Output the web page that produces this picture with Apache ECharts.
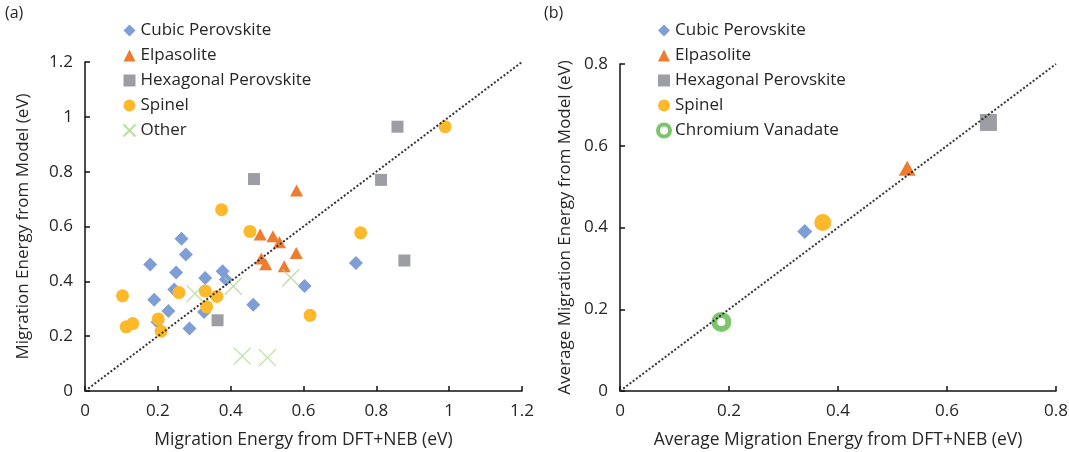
<!DOCTYPE html>
<html>
<head>
<meta charset="utf-8">
<script src="https://cdn.jsdelivr.net/npm/echarts@6/dist/echarts.min.js"></script>
<style>
  html, body { margin: 0; padding: 0; background: #fff; }
  #chart { width: 1069px; height: 452px; }
</style>
</head>
<body>
<div id="chart"></div>
<script>
// (a) individual migration energies: [DFT+NEB, model]
var cubicA = [[0.265, 0.555], [0.277, 0.498], [0.179, 0.461], [0.25, 0.432], [0.33, 0.412],
  [0.378, 0.437], [0.387, 0.407], [0.19, 0.333], [0.245, 0.37], [0.229, 0.292],
  [0.199, 0.252], [0.287, 0.228], [0.327, 0.288], [0.462, 0.315], [0.603, 0.383], [0.744, 0.467]]
var elpaA = [[0.581, 0.731], [0.481, 0.571], [0.516, 0.564], [0.534, 0.543], [0.58, 0.503],
  [0.484, 0.483], [0.496, 0.462], [0.547, 0.455]]
var hexA = [[0.464, 0.773], [0.364, 0.258], [0.813, 0.77], [0.877, 0.476], [0.858, 0.964]]
var spinelA = [[0.375, 0.661], [0.453, 0.582], [0.103, 0.347], [0.258, 0.359], [0.33, 0.365],
  [0.362, 0.345], [0.334, 0.307], [0.113, 0.234], [0.131, 0.246], [0.201, 0.263],
  [0.209, 0.218], [0.618, 0.276], [0.757, 0.577], [0.989, 0.964]]
var otherA = [[0.302, 0.355], [0.407, 0.382], [0.565, 0.413], [0.432, 0.127], [0.501, 0.122]]
var parityA = [[0, 0], [1.2, 1.2]]

// (b) averages
var cubicB = [[0.339, 0.39]]
var elpaB = [[0.527, 0.545]]
var hexB = [[0.676, 0.657]]
var spinelB = [[0.372, 0.412]]
var chromB = [[0.186, 0.169]]
var parityB = [[0, 0], [0.8, 0.8]]

var legendA = ['Cubic Perovskite', 'Elpasolite', 'Hexagonal Perovskite', 'Spinel', 'Other']
var legendB = ['Cubic Perovskite', 'Elpasolite', 'Hexagonal Perovskite', 'Spinel', 'Chromium Vanadate']

var font = 'Open Sans'
var txt = '#262626'
var blue = '#7f9ed6', orange = '#ef7b2f', gray = '#9c9ea3', yellow = '#fdb92a', green = '#a8d58c', ring = '#5cb646'
var xMark = 'path://M0,0L10,10M10,0L0,10'

function axis(gridIndex, max, name, gap, nameSize) {
  return {
    type: 'value', gridIndex: gridIndex, min: 0, max: max, interval: 0.2,
    name: name, nameLocation: 'middle', nameGap: gap,
    nameTextStyle: { fontFamily: font, fontSize: nameSize, color: txt },
    axisLine: { show: true, lineStyle: { color: '#111', width: 1.5 } },
    axisTick: { show: true, inside: true, length: 5, lineStyle: { color: '#111', width: 1.5 } },
    axisLabel: { fontFamily: font, fontSize: 17, color: txt, margin: 12 },
    splitLine: { show: false }
  }
}

function scatter(name, data, idx, symbol, size, color, extra) {
  var s = {
    name: name, type: 'scatter', xAxisIndex: idx, yAxisIndex: idx,
    symbol: symbol, symbolSize: size, data: data,
    itemStyle: { color: color, opacity: 1 },
    emphasis: { disabled: true }
  }
  if (extra) s.itemStyle = extra
  return s
}

function parity(data, idx) {
  return {
    type: 'line', xAxisIndex: idx, yAxisIndex: idx, data: data, symbol: 'none', z: 5,
    lineStyle: { type: 'dotted', width: 2, color: '#333' }, silent: true
  }
}

// thicker ring icon for the chromium vanadate legend entry
var legendBData = legendB.map(function (n) {
  if (n === 'Chromium Vanadate') return { name: n, itemStyle: { color: '#fff', borderColor: ring, borderWidth: 4 } }
  return n
})

var chart = echarts.init(document.getElementById('chart'))
var legendBase = {
  orient: 'vertical', top: 17, itemWidth: 12, itemHeight: 12, itemGap: 8,
  textStyle: { fontFamily: font, fontSize: 17, color: txt }
}
chart.setOption({
  animation: false,
  graphic: [
    { type: 'text', left: 5, top: 5, style: { text: '(a)', fontFamily: font, fontSize: 16, fill: txt } },
    { type: 'text', left: 544, top: 5, style: { text: '(b)', fontFamily: font, fontSize: 16, fill: txt } }
  ],
  legend: [
    Object.assign({ left: 116, data: legendA }, legendBase),
    Object.assign({ left: 651, data: legendBData }, legendBase)
  ],
  grid: [
    { left: 85, right: 547, top: 62, bottom: 61, outerBoundsMode: 'none' },
    { left: 620, right: 13, top: 64, bottom: 61, outerBoundsMode: 'none' }
  ],
  xAxis: [
    axis(0, 1.2, 'Migration Energy from DFT+NEB (eV)', 40, 17.5),
    axis(1, 0.8, 'Average Migration Energy from DFT+NEB (eV)', 40, 17.5)
  ],
  yAxis: [
    axis(0, 1.2, 'Migration Energy from Model (eV)', 53, 17),
    axis(1, 0.8, 'Average Migration Energy from Model (eV)', 46, 17)
  ],
  series: [
    scatter('Cubic Perovskite', cubicA, 0, 'diamond', 14, blue),
    scatter('Elpasolite', elpaA, 0, 'triangle', [13, 12], orange),
    scatter('Hexagonal Perovskite', hexA, 0, 'rect', 12, gray),
    scatter('Spinel', spinelA, 0, 'circle', 13, yellow),
    scatter('Other', otherA, 0, xMark, 17, green, { color: 'none', borderColor: green, borderWidth: 1.2 }),
    parity(parityA, 0),
    scatter('Cubic Perovskite', cubicB, 1, 'diamond', 15, blue),
    scatter('Elpasolite', elpaB, 1, 'triangle', [17, 15], orange),
    scatter('Hexagonal Perovskite', hexB, 1, 'rect', 17, gray),
    scatter('Spinel', spinelB, 1, 'circle', 17, yellow),
    scatter('Chromium Vanadate', chromB, 1, 'circle', 14, ring, { color: '#fff', borderColor: ring, borderWidth: 6 }),
    parity(parityB, 1)
  ]
})
</script>
</body>
</html>
